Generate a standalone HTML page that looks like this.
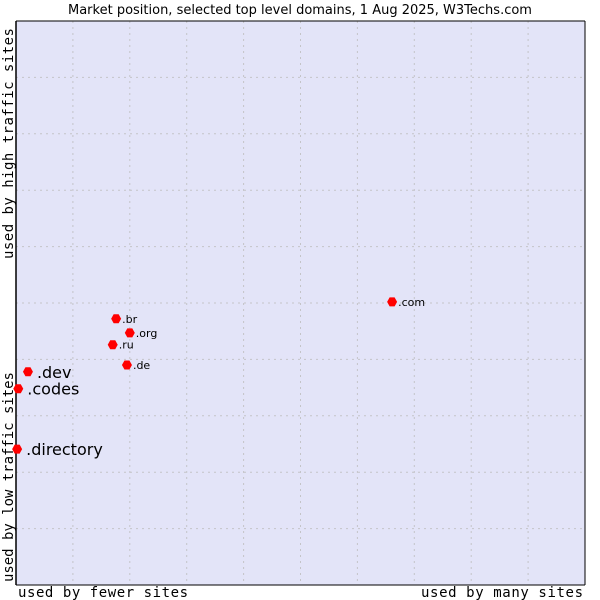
<!DOCTYPE html>
<html><head><meta charset="utf-8"><style>
body{margin:0;background:#fff}
svg{display:block;font-family:"DejaVu Sans","Liberation Sans",sans-serif}
</style></head><body>
<svg id="chart" width="600" height="600">
<text x="300" y="14" text-anchor="middle" font-size="13" fill="#000">Market position, selected top level domains, 1 Aug 2025, W3Techs.com</text>
<rect x="16" y="21" width="569" height="564" fill="#e3e4f8" stroke="none"/>
<g id="grid"></g>
<line x1="16" y1="21" x2="585" y2="21" stroke="#000"/>
<line x1="16" y1="21" x2="16" y2="585" stroke="#000" stroke-width="1.5"/>
<line x1="585" y1="21" x2="585" y2="585" stroke="#000"/>
<line x1="16" y1="585" x2="585" y2="585" stroke="#000"/>
<g id="points"></g>
<text x="18" y="597" font-family="DejaVu Sans Mono,Liberation Mono,monospace" font-size="14" textLength="170" lengthAdjust="spacing">used by fewer sites</text>
<text x="421" y="597" font-family="DejaVu Sans Mono,Liberation Mono,monospace" font-size="14" textLength="162" lengthAdjust="spacing">used by many sites</text>
<text transform="translate(13,582) rotate(-90)" font-family="DejaVu Sans Mono,Liberation Mono,monospace" font-size="14" textLength="210" lengthAdjust="spacing">used by low traffic sites</text>
<text transform="translate(13,259) rotate(-90)" font-family="DejaVu Sans Mono,Liberation Mono,monospace" font-size="14" textLength="231" lengthAdjust="spacing">used by high traffic sites</text>
</svg>
<script>
const domains=[".com",".br",".org",".ru",".de",".dev",".codes",".directory"];
const usage=[66.1,17.6,20.0,17.0,19.5,2.1,0.4,0.2];
const traffic=[50.2,47.2,44.7,42.6,39.0,37.8,34.8,24.1];
const labelSizes=[11,11,11,11,11,16,16,16];
const X0=16,X1=585,Y0=585,Y1=21;
const sx=v=>X0+(X1-X0)*v/100;
const sy=v=>Y0-(Y0-Y1)*v/100;
const NS="http://www.w3.org/2000/svg";
const grid=document.getElementById('grid');
for(let i=1;i<10;i++){
  const v=document.createElementNS(NS,'line');
  
  
  v.setAttribute('x1',sx(i*10));v.setAttribute('x2',sx(i*10));
  v.setAttribute('y1',Y1);v.setAttribute('y2',Y0);
  v.setAttribute('stroke','#c4c4c8');v.setAttribute('stroke-dasharray','2,4');
  grid.appendChild(v);
  const h=document.createElementNS(NS,'line');
  
  
  h.setAttribute('y1',sy(i*10));h.setAttribute('y2',sy(i*10));
  h.setAttribute('x1',X0);h.setAttribute('x2',X1);
  h.setAttribute('stroke','#c4c4c8');h.setAttribute('stroke-dasharray','2,4');
  grid.appendChild(h);
}
const pts=document.getElementById('points');
domains.forEach((d,i)=>{
  const x=sx(usage[i]),y=sy(traffic[i]);
  const p=document.createElementNS(NS,'path');
  
  
  p.setAttribute('d',`M${x-5},${y}L${x-2.5},${y-4.5}L${x+2.5},${y-4.5}L${x+5},${y}L${x+2.5},${y+4.5}L${x-2.5},${y+4.5}Z`);
  p.setAttribute('fill','#f00');
  pts.appendChild(p);
  const t=document.createElementNS(NS,'text');
  
  
  const big=labelSizes[i]>12;
  t.setAttribute('x',x+(big?9:6));
  t.setAttribute('y',y+(big?6:4));
  t.setAttribute('font-size',labelSizes[i]);
  t.textContent=d;
  pts.appendChild(t);
});
</script>
</body></html>
